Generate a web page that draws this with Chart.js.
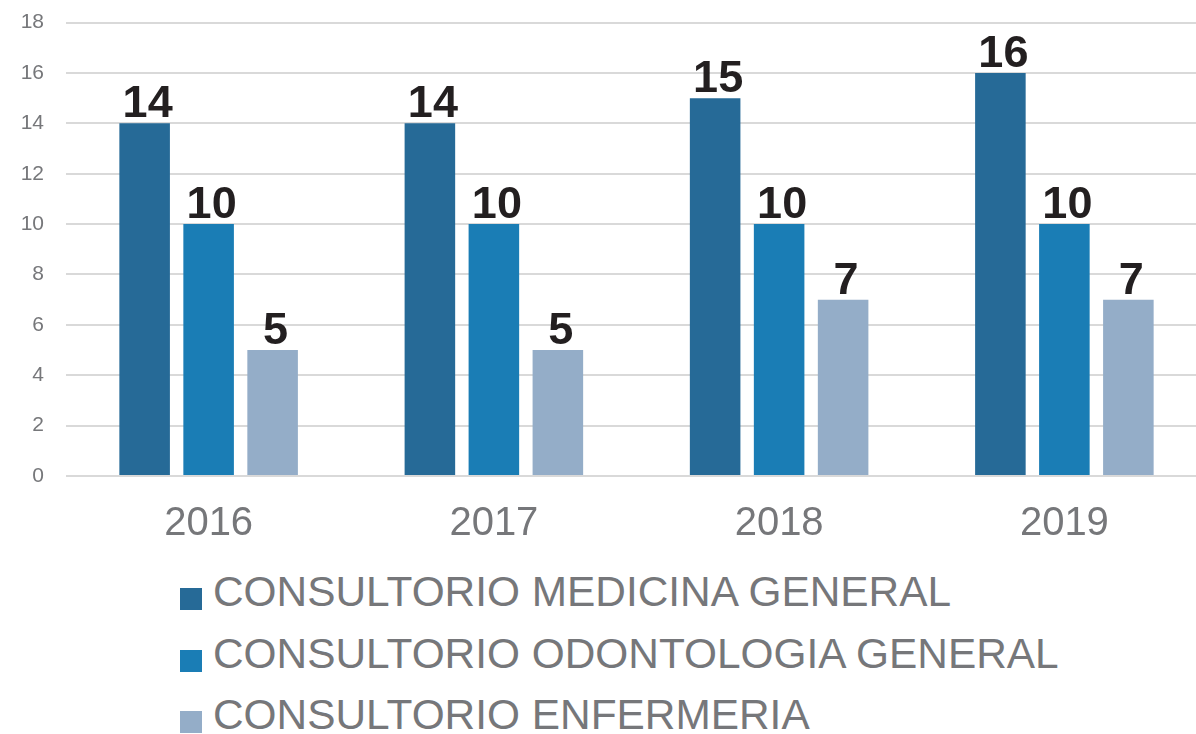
<!DOCTYPE html>
<html>
<head>
<meta charset="utf-8">
<script src="https://cdn.jsdelivr.net/npm/chart.js@4.4.1/dist/chart.umd.min.js"></script>
<style>
  html, body { margin: 0; padding: 0; background: #ffffff; overflow: hidden; width: 1196px; height: 734px; }
  #wrap { position: absolute; left: 0; top: -12px; width: 1210px; height: 572px; }
  #legend { position: absolute; left: 180px; top: 561px; font-family: 'Liberation Sans', Arial, sans-serif; font-size: 42.4px; color: #76777a; }
  .item { position: relative; height: 61.5px; line-height: 61.5px; white-space: nowrap; }
  .box { position: absolute; left: 0; top: 27px; width: 22px; height: 22px; }
  .lbl { position: absolute; left: 33px; top: 0; }
</style>
</head>
<body>
<div id="wrap"><canvas id="c"></canvas></div>
<div id="legend"></div>
<script>
const categories = ["2016", "2017", "2018", "2019"];
const seriesNames = ["CONSULTORIO MEDICINA GENERAL", "CONSULTORIO ODONTOLOGIA GENERAL", "CONSULTORIO ENFERMERIA"];
const medicina = [14, 14, 15, 16];
const odontologia = [10, 10, 10, 10];
const enfermeria = [5, 5, 7, 7];
const colors = ["#266a97", "#1a7db5", "#94adc8"];
const yTicks = [0, 2, 4, 6, 8, 10, 12, 14, 16, 18];

const FONT = "'Liberation Sans', Arial, sans-serif";

const valueLabels = {
  id: 'valueLabels',
  afterDatasetsDraw(chart) {
    const ctx = chart.ctx;
    ctx.save();
    ctx.font = "bold 45px " + FONT;
    ctx.fillStyle = "#231f20";
    ctx.textAlign = "center";
    ctx.textBaseline = "alphabetic";
    chart.data.datasets.forEach((ds, i) => {
      const meta = chart.getDatasetMeta(i);
      meta.data.forEach((bar, j) => {
        ctx.fillText(String(ds.data[j]), bar.x + 3, bar.y - 6);
      });
    });
    ctx.restore();
  }
};

const seriesData = [medicina, odontologia, enfermeria];
new Chart(document.getElementById('c'), {
  type: 'bar',
  data: {
    labels: categories,
    datasets: seriesData.map((d, i) => ({
      label: seriesNames[i],
      data: d,
      backgroundColor: colors[i],
      borderWidth: 0,
      categoryPercentage: 0.673,
      barPercentage: 0.79
    }))
  },
  options: {
    responsive: true,
    maintainAspectRatio: false,
    animation: false,
    layout: { padding: { top: 11, right: 3, left: 0, bottom: 0 } },
    plugins: { legend: { display: false }, tooltip: { enabled: false } },
    scales: {
      x: {
        grid: { display: false, drawTicks: false },
        border: { display: false },
        ticks: { color: "#76777a", font: { family: FONT, size: 40 }, padding: 24 },
        afterFit(scale) { scale.height = 84; }
      },
      y: {
        min: 0,
        max: 18,
        afterBuildTicks(scale) { scale.ticks = yTicks.map(v => ({ value: v })); },
        grid: { color: "#d9d9d9", lineWidth: 2, drawTicks: false },
        border: { display: false },
        ticks: { color: "#76777a", font: { family: FONT, size: 21 }, padding: 22 },
        afterFit(scale) { scale.width = 66; }
      }
    }
  },
  plugins: [valueLabels]
});

const legend = document.getElementById('legend');
seriesNames.forEach((name, i) => {
  const item = document.createElement('div');
  item.className = 'item';
  const box = document.createElement('span');
  box.className = 'box';
  box.style.background = colors[i];
  const lbl = document.createElement('span');
  lbl.className = 'lbl';
  lbl.textContent = name;
  item.appendChild(box);
  item.appendChild(lbl);
  legend.appendChild(item);
});
</script>
</body>
</html>
